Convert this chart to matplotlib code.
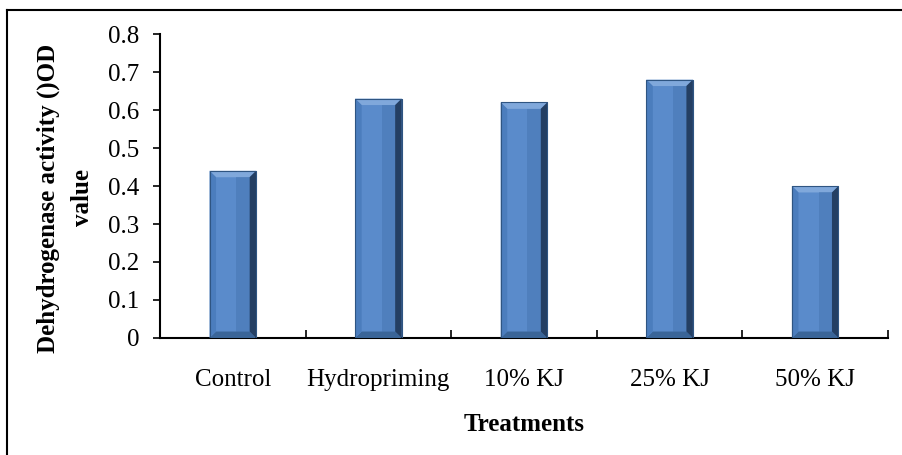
import matplotlib.pyplot as plt
from matplotlib.patches import Polygon, Rectangle
from matplotlib.lines import Line2D
import numpy as np

treatments = ['Control', 'Hydropriming', '10% KJ', '25% KJ', '50% KJ']
od_values = [0.44, 0.63, 0.62, 0.68, 0.40]
y_ticks = [0, 0.1, 0.2, 0.3, 0.4, 0.5, 0.6, 0.7, 0.8]

plt.rcParams['font.family'] = ['Liberation Serif', 'DejaVu Serif']

fig = plt.figure(figsize=(9.02, 4.55), dpi=100)
ax = fig.add_axes([160 / 902, 1 - 338 / 455, 728 / 902, 304 / 455])

x = np.arange(len(treatments))
bar_w = 0.32
bars = ax.bar(x, od_values, width=bar_w, color='#5a8bcb', edgecolor='none', zorder=2)

# bevel look, built from each bar's own geometry
bx = 0.045   # horizontal bevel (data units)
by = 0.017   # vertical bevel (data units)
for b in bars:
    x0, w, h = b.get_x(), b.get_width(), b.get_height()
    x1 = x0 + w
    top = Polygon([[x0, h], [x1, h], [x1 - bx, h - by], [x0 + bx, h - by]],
                  closed=True, facecolor='#80a8db', edgecolor='none', zorder=3)
    bot = Polygon([[x0, 0], [x1, 0], [x1 - bx, by], [x0 + bx, by]],
                  closed=True, facecolor='#3a6598', edgecolor='none', zorder=3)
    left = Polygon([[x0, 0], [x0 + bx, by], [x0 + bx, h - by], [x0, h]],
                   closed=True, facecolor='#4b7dbd', edgecolor='none', zorder=3)
    right = Polygon([[x1, 0], [x1 - bx, by], [x1 - bx, h - by], [x1, h]],
                    closed=True, facecolor='#243f63', edgecolor='none', zorder=3)
    for p in (top, bot, left, right):
        ax.add_patch(p)
    # soft shade toward the right of the face
    ax.add_patch(Rectangle((x0 + bx + (w - 2 * bx) * 0.6, by), (w - 2 * bx) * 0.4, h - 2 * by,
                           facecolor='#3f6ea8', alpha=0.4, edgecolor='none', zorder=3))
    ax.plot([x0, x1, x1, x0, x0], [0, 0, h, h, 0], color='#2f5582', lw=0.8, zorder=4)

ax.set_xlim(-0.5, len(treatments) - 0.5)
ax.set_ylim(0, 0.8)
ax.set_yticks(y_ticks)
ax.set_yticklabels(['0'] + ['%.1f' % v for v in y_ticks[1:]])
ax.set_xticks(x)
ax.set_xticklabels(treatments)
ax.set_xticks(np.arange(-0.5, len(treatments)), minor=True)

ax.tick_params(axis='x', which='major', length=0, labelsize=18, pad=22)
ax.tick_params(axis='x', which='minor', direction='in', length=6, width=1.2)
ax.tick_params(axis='y', direction='out', length=5, width=1.2, labelsize=18, pad=10)

for s in ('top', 'right'):
    ax.spines[s].set_visible(False)
for s in ('left', 'bottom'):
    ax.spines[s].set_linewidth(1.5)

ax.set_xlabel('Treatments', fontsize=18, fontweight='bold', labelpad=16)
fig.text(65 / 902, 1 - 198 / 455, 'Dehydrogenase activity ()OD\nvalue', rotation=90,
         ha='center', va='center', fontsize=18, fontweight='bold', linespacing=1.6,
         multialignment='center')

# outer chart frame
fig.add_artist(Line2D([7 / 902, 7 / 902], [-0.05, 1 - 10 / 455], transform=fig.transFigure,
                      color='black', lw=1.5))
fig.add_artist(Line2D([7 / 902, 1.05], [1 - 10 / 455, 1 - 10 / 455], transform=fig.transFigure,
                      color='black', lw=1.5))

fig.savefig('out.png', dpi=100)
